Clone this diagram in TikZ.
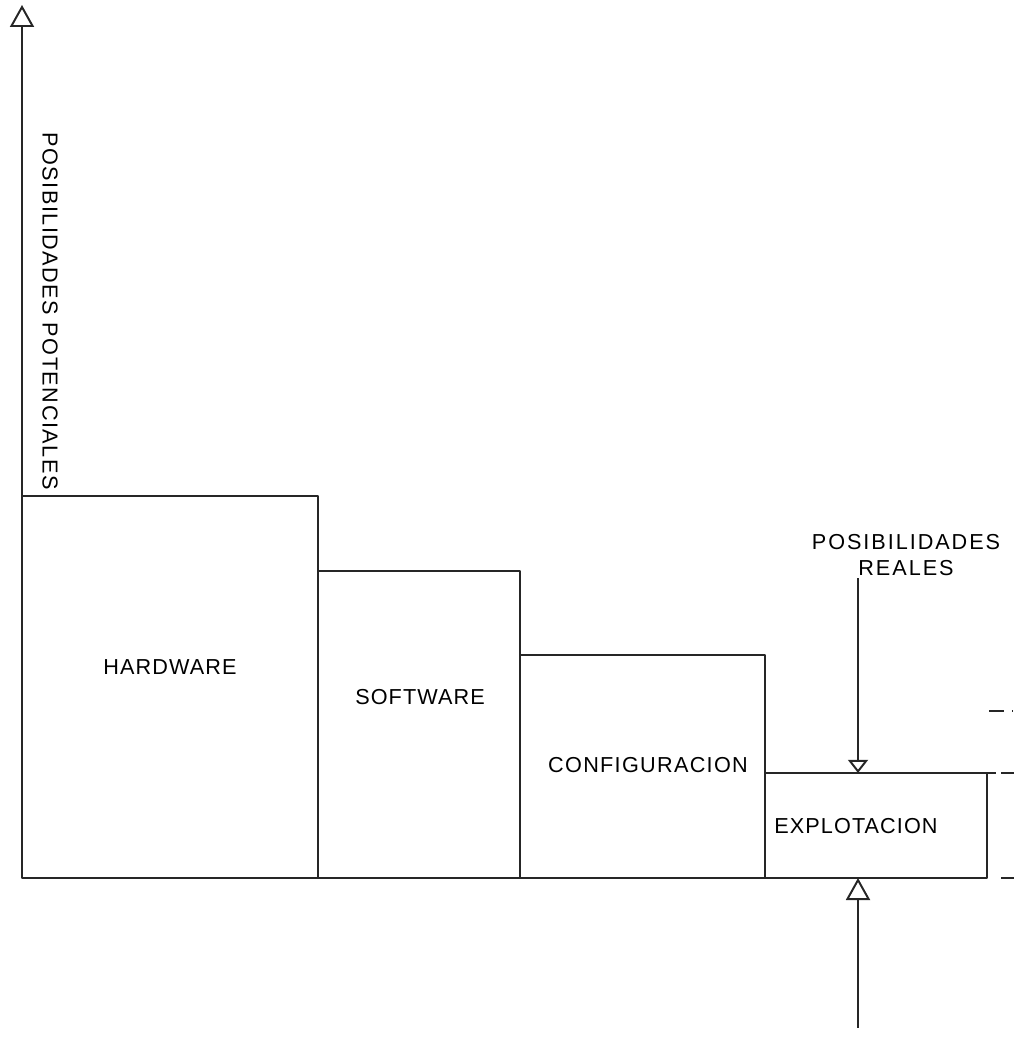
\documentclass[tikz,border=0pt]{standalone}
\usepackage{fontspec}
\newfontfamily\rotfont{Liberation Sans}
\usetikzlibrary{arrows.meta}

\tikzset{
  linea/.style={line width=1.4pt, black!85, line join=round},
  rotulo/.style={font=\fontsize{15.4}{18}\rotfont, inner sep=2pt},
  esp/.style={font=\fontsize{15.4}{18}\rotfont\addfontfeatures{LetterSpace=#1}},
  flechaA/.style={linea, -{Triangle[open, length=0.55cm, width=0.6cm]}},
  flechaB/.style={linea, -{Triangle[open, length=0.33cm, width=0.5cm]}}
}

\begin{document}
\begin{tikzpicture}[x=0.025cm, y=0.025cm]
    \useasboundingbox (0,0) rectangle (1015,1050);

    % Ejes
    \coordinate (O) at (22,172);
    \coordinate (ytop) at (22,1045);
    \draw[flechaA] (O) -- (ytop);
    \node[rotulo, esp=7, rotate=-90] (potenciales) at (50,739) {POSIBILIDADES POTENCIALES};

    % Cajas
    \draw[linea] (22,172) rectangle (318,554);
    \draw[linea] (318,172) rectangle (520,479);
    \draw[linea] (520,172) rectangle (765,395);
    \draw[linea] (765,172) rectangle (987,277);
    \node[rotulo, esp=5] (hardware) at (170,383) {HARDWARE};
    \node[rotulo, esp=5] (software) at (420,353) {SOFTWARE};
    \node[rotulo, esp=6] (configuracion) at (648,285) {CONFIGURACION};
    \node[rotulo, esp=5] (explotacion) at (856,224) {EXPLOTACION};

    % Restos a la derecha
    \draw[linea] (987,277) -- (996,277);
    \draw[linea] (1001,277) -- (1014,277);
    \draw[linea] (1001,172) -- (1014,172);
    \draw[linea] (989,339) -- (1004,339);
    \draw[linea] (1012,339) -- (1013,339);

    % Posibilidades reales
    \coordinate (real) at (858,277);
    \coordinate (abajo) at (858,22);
    \coordinate (base) at (858,172);
    \node[rotulo, esp=9, align=center] (reales) at (906,495) {POSIBILIDADES\\REALES};
    \draw[flechaB] (reales.south -| real) -- (real);
    \draw[flechaA] (abajo) -- (base);
\end{tikzpicture}
\end{document}
